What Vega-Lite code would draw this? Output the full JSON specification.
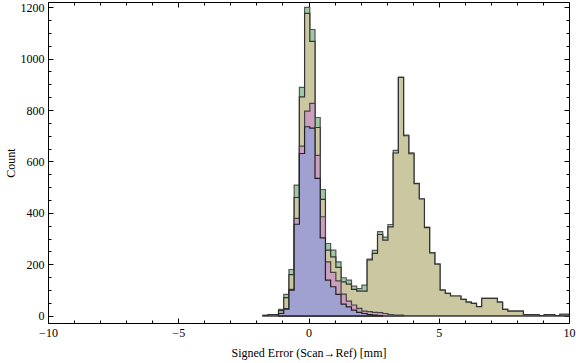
{
  "$schema": "https://vega.github.io/schema/vega-lite/v6.json",
  "width": 521,
  "height": 321,
  "autosize": "none",
  "padding": {"left": 48, "top": 2, "right": 7, "bottom": 40},
  "background": "white",
  "config": {
    "view": {"stroke": "#000000", "strokeWidth": 1},
    "axis": {
      "labelFont": "Liberation Serif", "titleFont": "Liberation Serif",
      "labelFontSize": 12, "titleFontSize": 12, "titleFontWeight": "normal",
      "labelColor": "#000000", "titleColor": "#000000", "tickColor": "#000000",
      "tickWidth": 1, "grid": false, "domain": false
    }
  },
  "data": {"values": [
    {"s":"g","x":-1.75,"n":2},{"s":"g","x":-1.55,"n":5},{"s":"g","x":-1.35,"n":5},{"s":"g","x":-1.15,"n":25},
    {"s":"g","x":-0.95,"n":83},{"s":"g","x":-0.75,"n":180},{"s":"g","x":-0.55,"n":508},{"s":"g","x":-0.35,"n":888},
    {"s":"g","x":-0.15,"n":1199},{"s":"g","x":0.05,"n":1113},{"s":"g","x":0.25,"n":771},{"s":"g","x":0.45,"n":491},
    {"s":"g","x":0.65,"n":281},{"s":"g","x":0.85,"n":255},{"s":"g","x":1.05,"n":210},{"s":"g","x":1.25,"n":148},
    {"s":"g","x":1.45,"n":139},{"s":"g","x":1.65,"n":115},{"s":"g","x":1.85,"n":106},{"s":"g","x":2.05,"n":119},
    {"s":"g","x":2.25,"n":220},{"s":"g","x":2.45,"n":254},{"s":"g","x":2.65,"n":327},{"s":"g","x":2.85,"n":306},
    {"s":"g","x":3.05,"n":355},{"s":"g","x":3.25,"n":643},{"s":"g","x":3.45,"n":927},{"s":"g","x":3.65,"n":703},
    {"s":"g","x":3.85,"n":634},{"s":"g","x":4.05,"n":515},{"s":"g","x":4.25,"n":455},{"s":"g","x":4.45,"n":345},
    {"s":"g","x":4.65,"n":246},{"s":"g","x":4.85,"n":201},{"s":"g","x":5.05,"n":100},{"s":"g","x":5.25,"n":87},
    {"s":"g","x":5.45,"n":77},{"s":"g","x":5.65,"n":77},{"s":"g","x":5.85,"n":64},{"s":"g","x":6.05,"n":53},
    {"s":"g","x":6.25,"n":48},{"s":"g","x":6.45,"n":36},{"s":"g","x":6.65,"n":68},{"s":"g","x":6.85,"n":68},
    {"s":"g","x":7.05,"n":68},{"s":"g","x":7.25,"n":53},{"s":"g","x":7.45,"n":25},{"s":"g","x":7.65,"n":18},
    {"s":"g","x":7.85,"n":18},{"s":"g","x":8.05,"n":18},{"s":"g","x":8.25,"n":5},{"s":"g","x":8.45,"n":5},
    {"s":"g","x":8.65,"n":5},{"s":"g","x":8.85,"n":1},{"s":"g","x":9.05,"n":5},{"s":"g","x":9.25,"n":5},
    {"s":"g","x":9.45,"n":1},{"s":"g","x":9.65,"n":6},{"s":"g","x":9.85,"n":6},{"s":"g","x":10.05,"n":0},

    {"s":"t","x":-1.75,"n":2},{"s":"t","x":-1.55,"n":5},{"s":"t","x":-1.35,"n":5},{"s":"t","x":-1.15,"n":20},
    {"s":"t","x":-0.95,"n":71},{"s":"t","x":-0.75,"n":160},{"s":"t","x":-0.55,"n":460},{"s":"t","x":-0.35,"n":851},
    {"s":"t","x":-0.15,"n":1176},{"s":"t","x":0.05,"n":1067},{"s":"t","x":0.25,"n":732},{"s":"t","x":0.45,"n":453},
    {"s":"t","x":0.65,"n":255},{"s":"t","x":0.85,"n":229},{"s":"t","x":1.05,"n":188},{"s":"t","x":1.25,"n":132},
    {"s":"t","x":1.45,"n":123},{"s":"t","x":1.65,"n":103},{"s":"t","x":1.85,"n":96},{"s":"t","x":2.05,"n":96},
    {"s":"t","x":2.25,"n":217},{"s":"t","x":2.45,"n":243},{"s":"t","x":2.65,"n":316},{"s":"t","x":2.85,"n":294},
    {"s":"t","x":3.05,"n":346},{"s":"t","x":3.25,"n":633},{"s":"t","x":3.45,"n":927},{"s":"t","x":3.65,"n":700},
    {"s":"t","x":3.85,"n":630},{"s":"t","x":4.05,"n":514},{"s":"t","x":4.25,"n":454},{"s":"t","x":4.45,"n":343},
    {"s":"t","x":4.65,"n":245},{"s":"t","x":4.85,"n":201},{"s":"t","x":5.05,"n":100},{"s":"t","x":5.25,"n":87},
    {"s":"t","x":5.45,"n":77},{"s":"t","x":5.65,"n":77},{"s":"t","x":5.85,"n":64},{"s":"t","x":6.05,"n":53},
    {"s":"t","x":6.25,"n":48},{"s":"t","x":6.45,"n":36},{"s":"t","x":6.65,"n":68},{"s":"t","x":6.85,"n":68},
    {"s":"t","x":7.05,"n":68},{"s":"t","x":7.25,"n":53},{"s":"t","x":7.45,"n":25},{"s":"t","x":7.65,"n":18},
    {"s":"t","x":7.85,"n":18},{"s":"t","x":8.05,"n":18},{"s":"t","x":8.25,"n":5},{"s":"t","x":8.45,"n":5},
    {"s":"t","x":8.65,"n":5},{"s":"t","x":8.85,"n":1},{"s":"t","x":9.05,"n":5},{"s":"t","x":9.25,"n":5},
    {"s":"t","x":9.45,"n":1},{"s":"t","x":9.65,"n":6},{"s":"t","x":9.85,"n":6},{"s":"t","x":10.05,"n":0},

    {"s":"p","x":-1.15,"n":10},{"s":"p","x":-0.95,"n":28},{"s":"p","x":-0.75,"n":103},{"s":"p","x":-0.55,"n":379},
    {"s":"p","x":-0.35,"n":660},{"s":"p","x":-0.15,"n":796},{"s":"p","x":0.05,"n":826},{"s":"p","x":0.25,"n":624},
    {"s":"p","x":0.45,"n":385},{"s":"p","x":0.65,"n":210},{"s":"p","x":0.85,"n":169},{"s":"p","x":1.05,"n":136},
    {"s":"p","x":1.25,"n":84},{"s":"p","x":1.45,"n":57},{"s":"p","x":1.65,"n":42},{"s":"p","x":1.85,"n":29},
    {"s":"p","x":2.05,"n":18},{"s":"p","x":2.25,"n":16},{"s":"p","x":2.45,"n":13},{"s":"p","x":2.65,"n":12},
    {"s":"p","x":2.85,"n":9},{"s":"p","x":3.05,"n":5},{"s":"p","x":3.25,"n":3},{"s":"p","x":3.45,"n":3},
    {"s":"p","x":3.65,"n":0},

    {"s":"b","x":-1.15,"n":9},{"s":"b","x":-0.95,"n":26},{"s":"b","x":-0.75,"n":100},{"s":"b","x":-0.55,"n":356},
    {"s":"b","x":-0.35,"n":631},{"s":"b","x":-0.15,"n":735},{"s":"b","x":0.05,"n":730},{"s":"b","x":0.25,"n":534},
    {"s":"b","x":0.45,"n":303},{"s":"b","x":0.65,"n":139},{"s":"b","x":0.85,"n":113},{"s":"b","x":1.05,"n":83},
    {"s":"b","x":1.25,"n":45},{"s":"b","x":1.45,"n":35},{"s":"b","x":1.65,"n":22},{"s":"b","x":1.85,"n":13},
    {"s":"b","x":2.05,"n":9},{"s":"b","x":2.25,"n":5},{"s":"b","x":2.45,"n":3},{"s":"b","x":2.65,"n":1},
    {"s":"b","x":2.85,"n":0}
  ]},
  "layer": [
    {
      "transform": [{"filter": "datum.s === 'g'"}],
      "mark": {"type": "area", "interpolate": "step-after", "fill": "#9dcaa5", "stroke": "#555555", "strokeWidth": 1.2, "clip": true},
      "encoding": {
        "x": {"field": "x", "type": "quantitative",
          "scale": {"domain": [-10, 10], "nice": false, "zero": false},
          "axis": {"orient": "bottom", "values": [-10, -5, 0, 5, 10], "tickSize": -5, "labelPadding": 9,
            "labelFlush": false, "labelOverlap": false, "title": "Signed Error (Scan→Ref) [mm]",
            "titleY": 29, "titleBaseline": "middle"}},
        "y": {"field": "n", "type": "quantitative",
          "scale": {"domain": [-28, 1220], "nice": false, "zero": false},
          "axis": {"orient": "left", "values": [0, 200, 400, 600, 800, 1000, 1200], "format": "d", "tickSize": -5, "labelPadding": 9,
            "labelFlush": false, "labelOverlap": false, "title": "Count", "titleX": -38, "titleBaseline": "middle"}}
      }
    },
    {
      "transform": [{"filter": "datum.s === 't'"}],
      "mark": {"type": "area", "interpolate": "step-after", "fill": "#cbc7a1", "stroke": "#333333", "strokeWidth": 1.2, "clip": true},
      "encoding": {
        "x": {"field": "x", "type": "quantitative",
          "scale": {"domain": [-10, 10], "nice": false, "zero": false},
          "axis": {"orient": "bottom", "values": [-9, -8, -7, -6, -4, -3, -2, -1, 1, 2, 3, 4, 6, 7, 8, 9], "tickSize": -3, "labels": false, "title": null}},
        "y": {"field": "n", "type": "quantitative",
          "scale": {"domain": [-28, 1220], "nice": false, "zero": false},
          "axis": {"orient": "left", "values": [50, 100, 150, 250, 300, 350, 450, 500, 550, 650, 700, 750, 850, 900, 950, 1050, 1100, 1150], "tickSize": -3, "labels": false, "title": null}}
      }
    },
    {
      "transform": [{"filter": "datum.s === 'p'"}],
      "mark": {"type": "area", "interpolate": "step-after", "fill": "#cc9fbf", "stroke": "#444444", "strokeWidth": 1.2, "clip": true},
      "encoding": {
        "x": {"field": "x", "type": "quantitative",
          "scale": {"domain": [-10, 10], "nice": false, "zero": false},
          "axis": {"orient": "top", "values": [-10, -5, 0, 5, 10], "tickSize": -5, "labels": false, "title": null}},
        "y": {"field": "n", "type": "quantitative",
          "scale": {"domain": [-28, 1220], "nice": false, "zero": false},
          "axis": {"orient": "right", "values": [0, 200, 400, 600, 800, 1000, 1200], "tickSize": -5, "labels": false, "title": null}}
      }
    },
    {
      "transform": [{"filter": "datum.s === 'b'"}],
      "mark": {"type": "area", "interpolate": "step-after", "fill": "#a1a1d1", "stroke": "#222222", "strokeWidth": 1.2, "clip": true},
      "encoding": {
        "x": {"field": "x", "type": "quantitative",
          "scale": {"domain": [-10, 10], "nice": false, "zero": false},
          "axis": {"orient": "top", "values": [-9, -8, -7, -6, -4, -3, -2, -1, 1, 2, 3, 4, 6, 7, 8, 9], "tickSize": -3, "labels": false, "title": null}},
        "y": {"field": "n", "type": "quantitative",
          "scale": {"domain": [-28, 1220], "nice": false, "zero": false},
          "axis": {"orient": "right", "values": [50, 100, 150, 250, 300, 350, 450, 500, 550, 650, 700, 750, 850, 900, 950, 1050, 1100, 1150], "tickSize": -3, "labels": false, "title": null}}
      }
    }
  ],
  "resolve": {"scale": {"x": "shared", "y": "shared"}, "axis": {"x": "independent", "y": "independent"}}
}
